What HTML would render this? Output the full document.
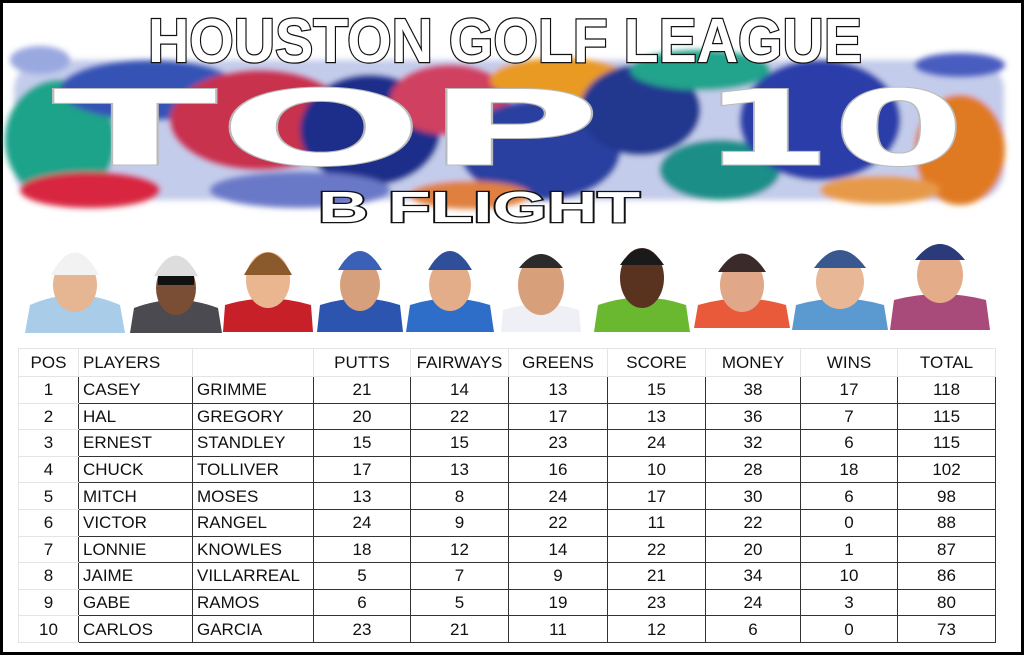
<!DOCTYPE html>
<html><head><meta charset="utf-8"><style>
html,body{margin:0;padding:0;background:#fff;}
body{width:1024px;height:655px;position:relative;overflow:hidden;font-family:"Liberation Sans",sans-serif;}
.frame{position:absolute;left:0;top:0;width:1018px;height:649px;border:3px solid #000;}
svg{position:absolute;left:0;top:0;}
svg text{font-family:"Liberation Sans",sans-serif;font-weight:bold;}
svg text.big{font-family:"DejaVu Sans",sans-serif;font-weight:bold;}
table{position:absolute;left:18px;top:348px;border-collapse:collapse;font-family:"Liberation Sans",sans-serif;font-size:17px;color:#111;}
td{height:25.6px;padding:0;text-align:center;border:1px solid #333;line-height:25px;}
tr.h td{border:1px solid #e4e4e4;height:27px;}
td.l{text-align:left;padding-left:4px;}
td.p{border-top:1px solid #e4e4e4;border-bottom:1px solid #e4e4e4;border-left:1px solid #e4e4e4;}
</style></head><body>
<div class="frame"></div>
<svg width="1024" height="345" viewBox="0 0 1024 345">
<defs><filter id="b" x="-20%" y="-20%" width="140%" height="140%"><feGaussianBlur stdDeviation="3"/></filter></defs>
<g filter="url(#b)">
<rect x="14" y="60" width="990" height="140" rx="30" fill="#8a9ad8" opacity="0.5"/>
<ellipse cx="60" cy="140" rx="55" ry="60" fill="#1aa38a"/>
<ellipse cx="150" cy="90" rx="90" ry="30" fill="#3553b5"/>
<ellipse cx="260" cy="120" rx="90" ry="50" fill="#c8324e"/>
<ellipse cx="90" cy="190" rx="70" ry="18" fill="#d8283f"/>
<ellipse cx="370" cy="130" rx="70" ry="55" fill="#1f2f8a"/>
<ellipse cx="450" cy="100" rx="60" ry="35" fill="#d04060"/>
<ellipse cx="560" cy="80" rx="70" ry="22" fill="#e99a20"/>
<ellipse cx="540" cy="150" rx="80" ry="50" fill="#2a3fa0"/>
<ellipse cx="640" cy="110" rx="60" ry="45" fill="#20388f"/>
<ellipse cx="700" cy="70" rx="70" ry="20" fill="#21a38c"/>
<ellipse cx="720" cy="170" rx="60" ry="30" fill="#1a8e88"/>
<ellipse cx="820" cy="120" rx="80" ry="60" fill="#2b3ea8"/>
<ellipse cx="960" cy="150" rx="45" ry="55" fill="#e07a20"/>
<ellipse cx="880" cy="190" rx="60" ry="14" fill="#e69a4a"/>
<ellipse cx="300" cy="190" rx="90" ry="18" fill="#6a78c8"/>
<ellipse cx="470" cy="195" rx="60" ry="14" fill="#e08040"/>
<ellipse cx="40" cy="60" rx="30" ry="14" fill="#9aa8e0"/>
<ellipse cx="960" cy="65" rx="45" ry="12" fill="#4a5cc0"/>
</g>
<text class="big" x="52" y="165" font-size="105" fill="#fff" textLength="550" lengthAdjust="spacingAndGlyphs" stroke="#bbb" stroke-width="1">TOP</text>
<text class="big" x="700" y="165" font-size="105" fill="#fff" textLength="265" lengthAdjust="spacingAndGlyphs" stroke="#bbb" stroke-width="1">10</text>
<text x="148" y="62" font-size="62" fill="#fff" stroke="#111" stroke-width="2.5" paint-order="stroke" textLength="714" lengthAdjust="spacingAndGlyphs">HOUSTON GOLF LEAGUE</text>
<text x="318" y="222" font-size="44" fill="#fff" stroke="#111" stroke-width="2.5" paint-order="stroke" textLength="322" lengthAdjust="spacingAndGlyphs">B FLIGHT</text>
<g>
<g transform="translate(75,0)"><path d="M-50 333 L-45 305 Q0 285 45 305 L50 333Z" fill="#a9cde8"/><ellipse cx="0" cy="285" rx="22" ry="27" fill="#e6b592"/><path d="M-24 275 Q0 230 24 275Z" fill="#f2f2f2"/></g>
<g transform="translate(176,0)"><path d="M-46 333 L-42 308 Q0 292 42 308 L46 333Z" fill="#4a4a50"/><ellipse cx="0" cy="288" rx="20" ry="27" fill="#7a4e35"/><path d="M-22 276 Q0 235 22 276Z" fill="#ddd"/><rect x="-18" y="276" width="36" height="9" fill="#111"/></g>
<g transform="translate(268,0)"><path d="M-45 332 L-43 305 Q0 292 43 305 L45 332Z" fill="#c82028"/><ellipse cx="0" cy="280" rx="22" ry="28" fill="#e9b690"/><path d="M-24 275 Q0 230 24 275Z" fill="#8a5a2c"/></g>
<g transform="translate(360,0)"><path d="M-43 332 L-40 305 Q0 292 40 305 L43 332Z" fill="#2c55b0"/><ellipse cx="0" cy="285" rx="20" ry="26" fill="#d7a07c"/><path d="M-22 270 Q0 232 22 270Z" fill="#3a60b8"/></g>
<g transform="translate(450,0)"><path d="M-44 332 L-40 305 Q0 292 40 305 L44 332Z" fill="#2e6ec8"/><ellipse cx="0" cy="285" rx="21" ry="26" fill="#e2ad88"/><path d="M-22 270 Q0 232 22 270Z" fill="#304f9a"/></g>
<g transform="translate(541,0)"><path d="M-40 332 L-38 310 Q0 298 38 310 L40 332Z" fill="#eef0f6"/><ellipse cx="0" cy="285" rx="23" ry="30" fill="#d8a07a"/><path d="M-22 268 Q0 240 22 268Z" fill="#2b2b2b"/></g>
<g transform="translate(642,0)"><path d="M-48 332 L-44 305 Q0 290 44 305 L48 332Z" fill="#6ab830"/><ellipse cx="0" cy="278" rx="22" ry="30" fill="#5a3220"/><path d="M-22 265 Q0 232 22 265Z" fill="#1a1a1a"/></g>
<g transform="translate(742,0)"><path d="M-48 328 L-44 305 Q0 292 44 305 L48 328Z" fill="#e85a3a"/><ellipse cx="0" cy="285" rx="22" ry="27" fill="#e0a888"/><path d="M-24 272 Q0 235 24 272Z" fill="#3a2a2a"/></g>
<g transform="translate(840,0)"><path d="M-48 330 L-44 305 Q0 292 44 305 L48 330Z" fill="#5a9ad0"/><ellipse cx="0" cy="282" rx="24" ry="27" fill="#e8b896"/><path d="M-26 268 Q0 232 26 268Z" fill="#3a5890"/></g>
<g transform="translate(940,0)"><path d="M-50 330 L-46 300 Q0 288 46 300 L50 330Z" fill="#a84a7a"/><ellipse cx="0" cy="275" rx="23" ry="28" fill="#e4ac88"/><path d="M-25 260 Q0 228 25 260Z" fill="#2a3a7a"/></g>
</g>
</svg>
<table>
<colgroup><col style="width:60px"><col style="width:114px"><col style="width:121px"><col style="width:97px"><col style="width:98px"><col style="width:99px"><col style="width:98px"><col style="width:95px"><col style="width:97px"><col style="width:98px"></colgroup>
<tr class="h"><td>POS</td><td class="l">PLAYERS</td><td></td><td>PUTTS</td><td>FAIRWAYS</td><td>GREENS</td><td>SCORE</td><td>MONEY</td><td>WINS</td><td>TOTAL</td></tr>
<tr><td class="p">1</td><td class="l">CASEY</td><td class="l">GRIMME</td><td>21</td><td>14</td><td>13</td><td>15</td><td>38</td><td>17</td><td>118</td></tr>
<tr><td class="p">2</td><td class="l">HAL</td><td class="l">GREGORY</td><td>20</td><td>22</td><td>17</td><td>13</td><td>36</td><td>7</td><td>115</td></tr>
<tr><td class="p">3</td><td class="l">ERNEST</td><td class="l">STANDLEY</td><td>15</td><td>15</td><td>23</td><td>24</td><td>32</td><td>6</td><td>115</td></tr>
<tr><td class="p">4</td><td class="l">CHUCK</td><td class="l">TOLLIVER</td><td>17</td><td>13</td><td>16</td><td>10</td><td>28</td><td>18</td><td>102</td></tr>
<tr><td class="p">5</td><td class="l">MITCH</td><td class="l">MOSES</td><td>13</td><td>8</td><td>24</td><td>17</td><td>30</td><td>6</td><td>98</td></tr>
<tr><td class="p">6</td><td class="l">VICTOR</td><td class="l">RANGEL</td><td>24</td><td>9</td><td>22</td><td>11</td><td>22</td><td>0</td><td>88</td></tr>
<tr><td class="p">7</td><td class="l">LONNIE</td><td class="l">KNOWLES</td><td>18</td><td>12</td><td>14</td><td>22</td><td>20</td><td>1</td><td>87</td></tr>
<tr><td class="p">8</td><td class="l">JAIME</td><td class="l">VILLARREAL</td><td>5</td><td>7</td><td>9</td><td>21</td><td>34</td><td>10</td><td>86</td></tr>
<tr><td class="p">9</td><td class="l">GABE</td><td class="l">RAMOS</td><td>6</td><td>5</td><td>19</td><td>23</td><td>24</td><td>3</td><td>80</td></tr>
<tr><td class="p">10</td><td class="l">CARLOS</td><td class="l">GARCIA</td><td>23</td><td>21</td><td>11</td><td>12</td><td>6</td><td>0</td><td>73</td></tr>
</table>
</body></html>
